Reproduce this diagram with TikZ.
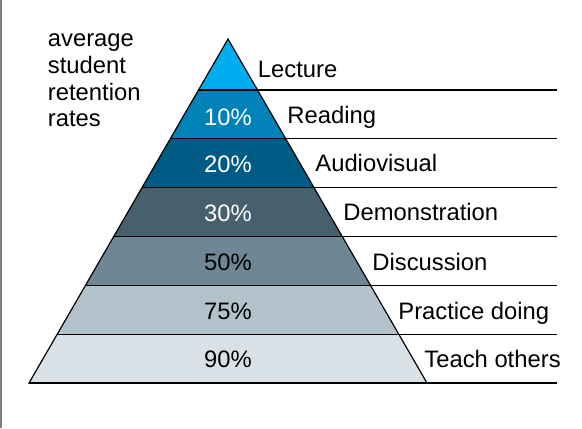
\documentclass[tikz,border=0pt]{standalone}
\usepackage{fontspec}
\setmainfont{Liberation Sans}
% band colours, top to bottom
\definecolor{bandA}{HTML}{00AEEF}
\definecolor{bandB}{HTML}{0082B9}
\definecolor{bandC}{HTML}{005C84}
\definecolor{bandD}{HTML}{46606E}
\definecolor{bandE}{HTML}{6F8794}
\definecolor{bandF}{HTML}{B2C2CB}
\definecolor{bandG}{HTML}{DAE1E6}
\begin{document}
\begin{tikzpicture}[x=0.5pt,y=-0.5pt,
  txt/.style={font=\fontsize{11.9}{13.4}\selectfont, inner sep=0pt},
  pct/.style={txt, anchor=base},
  lbl/.style={txt, anchor=base west},
  side/.style={txt, anchor=base west},
  rule/.style={draw=black, line width=0.65pt},
  outline/.style={draw=black, line width=0.6pt, line join=miter}]
\useasboundingbox (0,0) rectangle (582,428);
% frame line on the left
\draw[draw=gray, line width=0.8pt] (0.8,0) -- (0.8,428);

% pyramid bands: top y / bottom y / colour
\foreach \t/\b/\c in {39/90/bandA, 90/138.8/bandB, 138.8/187.7/bandC,
    187.7/236.5/bandD, 236.5/285.3/bandE, 285.3/334.2/bandF, 334.2/383/bandG}{
  \fill[\c] ({228-0.5785*(\t-39)},\t) -- ({228+0.5785*(\t-39)},\t)
    -- ({228+0.5785*(\b-39)},\b) -- ({228-0.5785*(\b-39)},\b) -- cycle;
}

% corners of the pyramid
\coordinate (apex) at (228,39);
\coordinate (baseL) at (29,383);
\coordinate (baseR) at (427,383);
\draw[outline] (apex) -- (baseL) -- (baseR) -- cycle;

% level rules, running from the left edge out to the right
\foreach \y [count=\i] in {90,138.8,187.7,236.5,285.3,334.2,383}{
  \coordinate (l\i) at ({228-0.5785*(\y-39)},\y);
  \coordinate (r\i) at (557,\y);
  \draw[rule] (l\i) -- (r\i);
}

% retention percentages
\node[pct, white] (p10) at (228,125) {10\%};
\node[pct, white] (p20) at (228,172) {20\%};
\node[pct, white] (p30) at (228,221) {30\%};
\node[pct] (p50) at (228,270) {50\%};
\node[pct] (p75) at (228,319) {75\%};
\node[pct] (p90) at (228,367) {90\%};

% learning methods
\node[lbl] (lecture) at (257.5,77) {Lecture};
\node[lbl] (reading) at (287,123) {Reading};
\node[lbl] (audio) at (315,171) {Audiovisual};
\node[lbl] (demo) at (343,220) {Demonstration};
\node[lbl] (disc) at (372,270) {Discussion};
\node[lbl] (practice) at (398,319) {Practice doing};
\node[lbl] (teach) at (424,367) {Teach others};

% caption on the left
\node[side] (c1) at (47.5,46) {average};
\node[side] (c2) at (47.5,73) {student};
\node[side] (c3) at (47.5,100) {retention};
\node[side] (c4) at (47.5,126) {rates};
\end{tikzpicture}
\end{document}
